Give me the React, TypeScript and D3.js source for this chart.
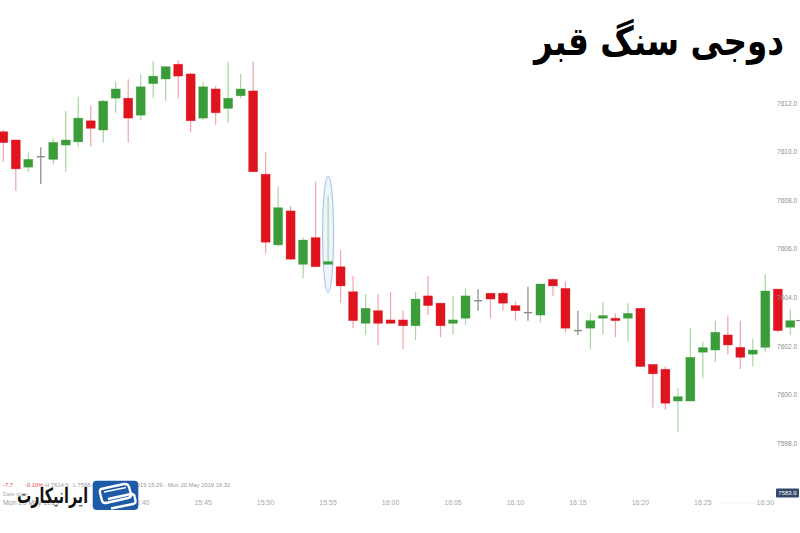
import React from 'react';
import * as d3 from 'd3';

const W = 800;
const H = 533;

const startTime = '15:29';
const endTime = '16:32';

const opens = [
  7610.83, 7610.49, 7609.37, 7609.80, 7609.69, 7610.28, 7610.41, 7611.28, 7610.90, 7612.21,
  7612.21, 7611.51, 7612.81, 7613.00, 7613.61, 7613.21, 7611.39, 7612.59, 7611.79, 7612.31,
  7612.51, 7609.08, 7606.17, 7607.57, 7605.37, 7606.47, 7605.37, 7605.27, 7604.24, 7602.94,
  7603.46, 7603.08, 7603.08, 7602.84, 7604.07, 7603.77, 7602.94, 7603.15, 7603.87, 7604.18,
  7604.18, 7603.67, 7603.38, 7603.28, 7604.75, 7604.38, 7602.64, 7602.74, 7603.15, 7603.15,
  7603.15, 7603.56, 7601.25, 7601.05, 7599.74, 7599.74, 7601.75, 7601.84, 7602.46, 7601.95,
  7601.67, 7601.95, 7604.35, 7602.78,
];

const highs = [
  7610.90, 7610.49, 7609.97, 7610.19, 7610.56, 7611.68, 7612.27, 7611.90, 7612.14, 7612.89,
  7612.99, 7613.19, 7613.75, 7613.51, 7613.78, 7613.26, 7612.89, 7612.71, 7613.71, 7613.21,
  7613.71, 7609.98, 7608.57, 7607.77, 7606.47, 7608.77, 7608.18, 7605.96, 7604.89, 7604.15,
  7604.15, 7604.24, 7603.46, 7604.24, 7604.89, 7603.77, 7604.07, 7604.34, 7604.34, 7604.18,
  7604.24, 7603.83, 7604.45, 7604.56, 7604.80, 7604.66, 7603.46, 7603.35, 7603.83, 7603.35,
  7603.77, 7603.56, 7601.25, 7601.16, 7600.27, 7602.74, 7602.18, 7603.05, 7603.26, 7603.05,
  7602.30, 7604.96, 7604.35, 7603.52,
];

const lows = [
  7609.60, 7608.40, 7609.18, 7608.68, 7609.49, 7609.18, 7610.21, 7610.21, 7610.39, 7611.61,
  7610.39, 7611.31, 7612.21, 7612.11, 7612.21, 7610.81, 7611.31, 7611.12, 7611.20, 7612.21,
  7609.18, 7605.80, 7606.10, 7605.58, 7604.80, 7605.27, 7605.37, 7603.79, 7602.74, 7602.46,
  7602.05, 7602.94, 7601.87, 7602.25, 7603.28, 7602.37, 7602.46, 7602.87, 7603.46, 7603.15,
  7603.46, 7603.05, 7603.05, 7602.97, 7604.07, 7602.56, 7602.46, 7601.87, 7602.46, 7602.37,
  7602.18, 7601.16, 7599.47, 7599.37, 7598.44, 7599.74, 7600.68, 7601.36, 7601.67, 7601.06,
  7601.16, 7601.77, 7602.56, 7602.46,
];

const closes = [
  7610.38, 7609.30, 7609.69, 7609.80, 7610.39, 7610.49, 7611.39, 7610.97, 7612.09, 7612.59,
  7611.39, 7612.68, 7613.12, 7613.51, 7613.12, 7611.28, 7612.68, 7611.61, 7612.21, 7612.59,
  7609.18, 7606.28, 7607.70, 7605.58, 7606.37, 7605.27, 7605.48, 7604.48, 7603.05, 7603.56,
  7602.94, 7602.94, 7602.84, 7603.94, 7603.67, 7602.84, 7603.08, 7604.07, 7603.87, 7603.94,
  7603.77, 7603.46, 7603.38, 7604.56, 7604.48, 7602.74, 7602.64, 7603.05, 7603.26, 7603.05,
  7603.35, 7601.16, 7600.86, 7599.65, 7599.92, 7601.54, 7601.94, 7602.57, 7602.05, 7601.54,
  7601.84, 7604.27, 7602.64, 7603.05,
];

const xTickLabels = ['15:40', '15:45', '15:50', '15:55', '16:00', '16:05', '16:10', '16:15', '16:20', '16:25', '16:30'];
const yTickValues = [7598, 7600, 7602, 7604, 7606, 7608, 7610, 7612];

const highlightIndex = 26;
const titleText = 'دوجی سنگ قبر';
const logoText = 'ایرانیکارت';
const headerChange = '-7.7';
const headerPct = '-0.10%';
const headerHigh = 'H 7614.9';
const headerLow = 'L 7598.4';
const headerRange = 'Mon 20 May 2019 15:29 - Mon 20 May 2019 16:32';
const dateLabel = 'Date span';
const dayLabel = 'Mon 20 May 2019';
const lastPriceTag = '7583.9';

const RED = '#e0141f';
const GREEN = '#3a9d3a';
const RED_WICK = '#f3a3a9';
const GREEN_WICK = '#a8d6a2';
const GREY = '#8a8a8a';

const toMin = (t: string) => {
  const [h, m] = t.split(':').map(Number);
  return h * 60 + m;
};

export default function App() {
  const t0 = toMin(startTime);
  const t1 = toMin(endTime);
  const x = d3.scaleLinear().domain([t0, t1]).range([3.3, 790.3]);
  const y = d3.scaleLinear().domain([7598, 7612]).range([443.3, 103.3]);
  const bodyW = 9;

  const candles = opens.map((o, i) => ({
    i,
    o,
    h: highs[i],
    l: lows[i],
    c: closes[i],
    t: t0 + i,
  }));

  const hl = candles[highlightIndex];
  const hlTop = y(hl.h);
  const hlBot = y(hl.l);

  const axisFont = 'Arial, "Liberation Sans", sans-serif';

  return (
    <svg width={W} height={H} style={{ position: 'absolute', left: 0, top: 0, background: '#fff' }} xmlns="http://www.w3.org/2000/svg">
      <rect x={0} y={0} width={W} height={H} fill="#fff" />

      {/* highlight ellipse behind doji */}
      <ellipse
        cx={x(hl.t)}
        cy={(hlTop + hlBot) / 2 + 4}
        rx={5.5}
        ry={(hlBot - hlTop) / 2 + 24}
        fill="#dbe9f7"
        fillOpacity={0.45}
        stroke="#a9c9ea"
        strokeWidth={1.2}
      />

      {/* candles */}
      {candles.map((d) => {
        const cx = x(d.t);
        const isDoji = d.o === d.c;
        const up = d.c > d.o;
        const bodyColor = isDoji ? GREY : up ? GREEN : RED;
        const wickColor = isDoji ? GREY : up ? GREEN_WICK : RED_WICK;
        const top = y(Math.max(d.o, d.c));
        const bot = y(Math.min(d.o, d.c));
        const bh = Math.max(bot - top, isDoji ? 1.2 : 2.2);
        return (
          <g key={d.i}>
            <line x1={cx} x2={cx} y1={y(d.h)} y2={y(d.l)} stroke={wickColor} strokeWidth={1.2} />
            {isDoji ? (
              <line x1={cx - 4} x2={cx + 4} y1={top} y2={top} stroke={GREY} strokeWidth={1.4} />
            ) : (
              <rect x={cx - bodyW / 2} y={top} width={bodyW} height={bh} fill={bodyColor} stroke={bodyColor} strokeOpacity={0.5} strokeWidth={0.6} />
            )}
          </g>
        );
      })}

      {/* last price marker */}
      <line x1={796} x2={800} y1={y(closes[closes.length - 1])} y2={y(closes[closes.length - 1])} stroke="#777" strokeWidth={1} />

      {/* right axis labels */}
      {yTickValues.map((v) => (
        <text key={v} x={777} y={y(v) + 2.4} fontSize={6.6} fill="#8c8c8c" fontFamily={axisFont}>
          {v.toFixed(1)}
        </text>
      ))}

      {/* bottom axis labels */}
      {xTickLabels.map((t) => (
        <text key={t} x={x(toMin(t))} y={505} fontSize={7} fill="#a8a8a8" textAnchor="middle" fontFamily={axisFont}>
          {t}
        </text>
      ))}
      <line x1={722} x2={758} y1={503} y2={503} stroke="#eee" strokeWidth={0.8} />

      {/* header info line */}
      <text x={3} y={487} fontSize={5.8} fontFamily={axisFont}>
        <tspan fill="#e04848">{headerChange}</tspan>
        <tspan x={25} fill="#e04848">{headerPct}</tspan>
        <tspan x={45} fill="#999">{headerHigh}</tspan>
        <tspan x={73} fill="#999">{headerLow}</tspan>
        <tspan x={100} fill="#999">{headerRange}</tspan>
      </text>
      <text x={3} y={495.5} fontSize={5.5} fill="#aaa" fontFamily={axisFont}>{dateLabel}</text>
      <text x={3} y={505} fontSize={7} fill="#999" fontFamily={axisFont}>{dayLabel}</text>

      {/* last price tag */}
      <rect x={776} y={488.5} width={23} height={9} fill="#34496b" rx={1} />
      <text x={787.5} y={495.3} fontSize={6} fill="#fff" textAnchor="middle" fontFamily={axisFont}>{lastPriceTag}</text>

      {/* logo */}
      <g>
        <rect x={92.7} y={480.7} width={45.6} height={29.3} rx={4} fill="#1d5aa8" />
        <path d="M101 489 L124 484 Q128 483.5 129 487 L131 494 Q131.8 497 128 498 L106 503 Q102.5 503.5 101.8 500 L100 493 Q99.5 490 101 489 Z" fill="none" stroke="#fff" strokeWidth={2.4} />
        <path d="M108 499 L131 494 Q134 493.5 134.6 496.5 L135.5 500.5 Q136 503.5 133 504 L111 508.5" fill="none" stroke="#fff" strokeWidth={2.4} />
        <path d="M104 492 L126 487.5" stroke="#fff" strokeWidth={1.6} />
        <text x={17} y={503} fontSize={21} fontWeight="bold" fill="#111" textLength={71} lengthAdjust="spacingAndGlyphs" fontFamily='"DejaVu Sans", sans-serif'>
          {logoText}
        </text>
      </g>

      {/* title */}
      <text x={534} y={55} fontSize={40} fontWeight="bold" fill="#000" textLength={250} lengthAdjust="spacingAndGlyphs" fontFamily='"DejaVu Sans", sans-serif'>
        {titleText}
      </text>
    </svg>
  );
}
